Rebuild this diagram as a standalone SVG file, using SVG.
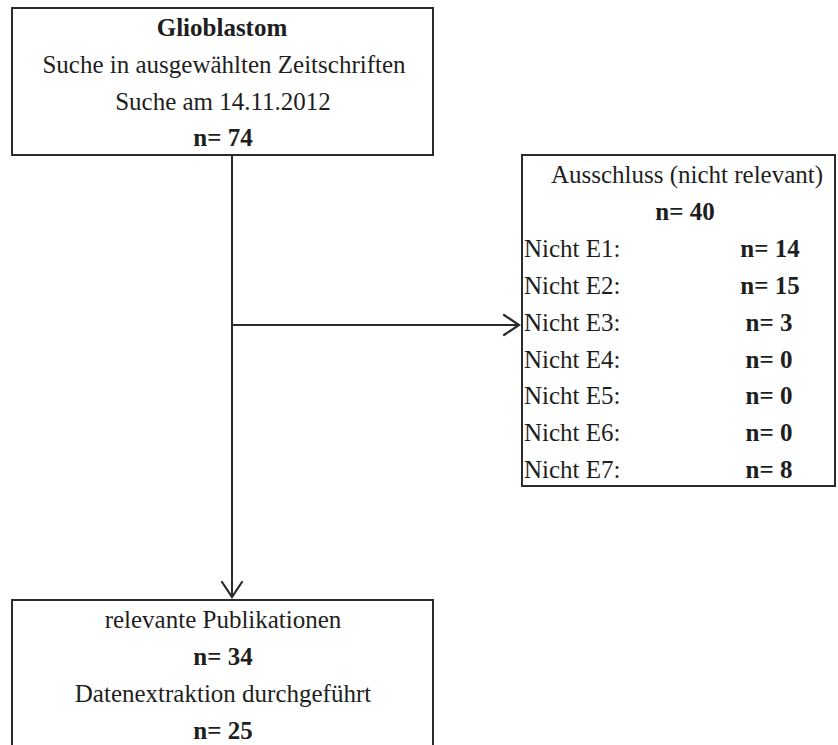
<svg xmlns="http://www.w3.org/2000/svg" width="838" height="745" viewBox="0 0 838 745">
  <style>
    .box { fill: #ffffff; stroke: #2b2b2b; stroke-width: 2; }
    .t { font-family: "Liberation Serif", "Times New Roman", serif; font-size: 25px; fill: #1e1e1e; }
    .c { text-anchor: middle; }
    .b { font-weight: bold; }
    .wire { fill: none; stroke: #2b2b2b; stroke-width: 2; }
    .head { fill: none; stroke: #2b2b2b; stroke-width: 2.2; stroke-linecap: round; stroke-linejoin: miter; }
  </style>
  <rect width="838" height="745" fill="#ffffff"/>

  <!-- connectors -->
  <g id="connectors">
    <line class="wire" x1="232" y1="155" x2="232" y2="597"/>
    <polyline class="head" points="222,582 232,597 242,582"/>
    <line class="wire" x1="232" y1="325" x2="519" y2="325"/>
    <polyline class="head" points="504,315 519,325 504,335"/>
  </g>

  <!-- search node -->
  <g id="search">
    <rect class="box" x="12" y="8" width="421" height="147"/>
    <text class="t c b" x="222" y="36">Glioblastom</text>
    <text class="t c" x="224" y="73">Suche in ausgewählten Zeitschriften</text>
    <text class="t c" x="223" y="110">Suche am 14.11.2012</text>
    <text class="t c b" x="223" y="146">n= 74</text>
  </g>

  <!-- exclusion node -->
  <g id="exclusion">
    <rect class="box" x="522" y="155" width="313" height="331"/>
    <text class="t c" x="687" y="183">Ausschluss (nicht relevant)</text>
    <text class="t c b" x="685" y="220">n= 40</text>
    <text class="t" x="524" y="257">Nicht E1:</text>
    <text class="t c b" x="770" y="257">n= 14</text>
    <text class="t" x="524" y="294">Nicht E2:</text>
    <text class="t c b" x="770" y="294">n= 15</text>
    <text class="t" x="524" y="331">Nicht E3:</text>
    <text class="t c b" x="769" y="331">n= 3</text>
    <text class="t" x="524" y="368">Nicht E4:</text>
    <text class="t c b" x="769" y="368">n= 0</text>
    <text class="t" x="524" y="404">Nicht E5:</text>
    <text class="t c b" x="769" y="404">n= 0</text>
    <text class="t" x="524" y="441">Nicht E6:</text>
    <text class="t c b" x="769" y="441">n= 0</text>
    <text class="t" x="524" y="478">Nicht E7:</text>
    <text class="t c b" x="769" y="478">n= 8</text>
  </g>

  <!-- relevant publications node (runs past the lower edge) -->
  <g id="relevant">
    <rect class="box" x="12" y="600" width="421" height="170"/>
    <text class="t c" x="223" y="628">relevante Publikationen</text>
    <text class="t c b" x="223" y="665">n= 34</text>
    <text class="t c" x="223" y="702">Datenextraktion durchgeführt</text>
    <text class="t c b" x="223" y="739">n= 25</text>
  </g>
</svg>
